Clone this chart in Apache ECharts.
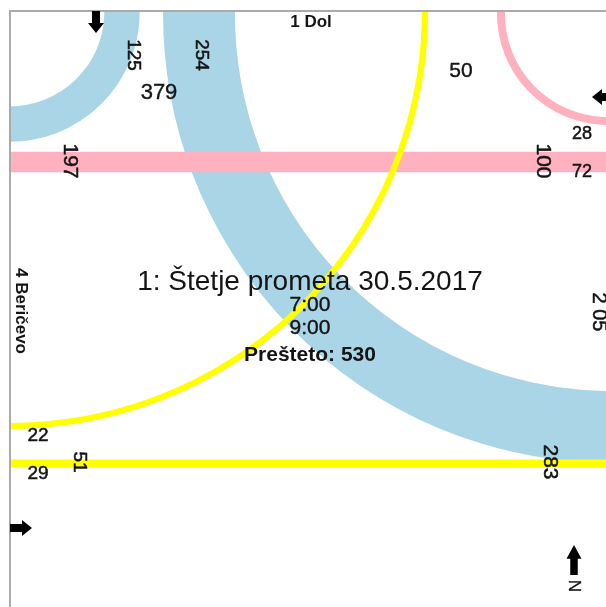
<!DOCTYPE html>
<html><head><meta charset="utf-8">
<style>html,body{margin:0;padding:0;background:#fff}#c{width:606px;height:607px}</style>
<script src="https://cdn.jsdelivr.net/npm/echarts@6/dist/echarts.min.js"></script>
</head><body><div id="c"></div>
<script>
// Flows (vehicles) drawn as bands; band width is proportional to the flow
var flowNames = ['Blue through', 'Blue turn', 'Pink through', 'Pink turn', 'Yellow through', 'Yellow turn'];
var flowValues = [254, 125, 72, 28, 29, 22];
var widthPerVehicle = 0.283;

// Straight band centre-lines, in map coordinates
var pinkThroughPath = [[10,162],[606,162]];
var yellowThroughPath = [[10,463.5],[606,463.5]];

// Turning bands as circular arcs: centre x, centre y, radius, start and end angle (degrees)
var blueThroughArc = [612,14,413,85,185];
var blueTurnArc = [10,12,112,-5,95];
var pinkTurnArc = [608,14,107,85,185];
var yellowTurnArc = [10,11,415,-5,95];

// Texts
var labelTexts = ['1 Dol','4 Beričevo','2 05','125','254','379','50','197','100','28','72','22','29','51','283','1: Štetje prometa 30.5.2017','7:00','9:00','Prešteto: 530','N'];

// Layout of the texts: x, y, size, rotation, weight, thickening
var labelLayout = [
 [311,22,17,0,'bold',0],[21,311,17,-90,'bold',0],[599,312,20,-90,'normal',0.5],
 [133,55,19,-90,'normal',0.5],[201,55,19,-90,'normal',0.5],[159,93,22,0,'normal',0.4],
 [461,71,21,0,'normal',0.4],[70,161,21,-90,'normal',0.5],[543,161,21,-90,'normal',0.5],
 [582,134,18,0,'normal',0.5],[582,172,18,0,'normal',0.5],[38,436,19,0,'normal',0.5],[38,474,19,0,'normal',0.5],
 [79,462,19,-90,'normal',0.5],[550,462,21,-90,'normal',0.5],
 [310,282,28,0,'normal',0],[310,305,21,0,'normal',0.4],[310,328,21,0,'normal',0.4],[310,355,21,0,'bold',0],
 [574,586,17,-90,'normal',0.3]
];

// Arrows: x, y, rotation
var arrowPoints = [[96,22,180],[603,97,90],[21,528,-90],[574,560,0]];
var arrowSizes = [[16,22],[16,22],[16,22],[15,30]];
var arrowPath = 'path://M8 0 L16 10 L12 10 L12 22 L4 22 L4 10 L0 10 Z';

var colors = {blue:'#A9D5E6', pink:'#FFB1BF', yellow:'#FFFF00'};

function straightBand(i, path, color){
  return {type:'line', name:flowNames[i], data:path, showSymbol:false, symbol:'none',
    lineStyle:{color:color, width:flowValues[i]*widthPerVehicle, cap:'butt'},
    silent:true, clip:true, z:2+i};
}

function arcBand(i, arc, color){
  return {type:'custom', name:flowNames[i], data:[arc], clip:true, silent:true, z:2+i,
    encode:{x:0, y:1},
    renderItem:function(params, api){
      var c = api.coord([api.value(0), api.value(1)]);
      var r = api.size([api.value(2), 0])[0];
      return {type:'arc', silent:true,
        shape:{cx:c[0], cy:c[1], r:r, startAngle:api.value(3)*Math.PI/180, endAngle:api.value(4)*Math.PI/180, clockwise:true},
        style:{stroke:color, fill:null, lineWidth:flowValues[i]*widthPerVehicle, lineCap:'butt'}};
    }};
}

var chart = echarts.init(document.getElementById('c'), null, {renderer:'canvas'});
chart.setOption({
  animation:false,
  backgroundColor:'#fff',
  grid:{left:10, top:11, width:596, height:596, containLabel:false},
  xAxis:{type:'value', position:'top', min:10, max:606, axisTick:{show:false}, axisLabel:{show:false}, splitLine:{show:false}, z:15,
         axisLine:{show:true, onZero:false, lineStyle:{color:'#aaaaaa', width:2}}},
  yAxis:{type:'value', inverse:true, min:11, max:607, axisTick:{show:false}, axisLabel:{show:false}, splitLine:{show:false}, z:15,
         axisLine:{show:true, onZero:false, lineStyle:{color:'#aaaaaa', width:2}}},
  series:[
    arcBand(0, blueThroughArc, colors.blue),
    arcBand(1, blueTurnArc, colors.blue),
    straightBand(2, pinkThroughPath, colors.pink),
    arcBand(3, pinkTurnArc, colors.pink),
    straightBand(4, yellowThroughPath, colors.yellow),
    arcBand(5, yellowTurnArc, colors.yellow),
    {type:'scatter', silent:true, clip:false, z:20,
     data:arrowPoints.map(function(a,i){return {value:[a[0],a[1]], symbol:arrowPath, symbolSize:arrowSizes[i], symbolRotate:a[2], itemStyle:{color:'#000', opacity:1}};})},
    {type:'scatter', silent:true, clip:false, z:30, symbolSize:1, itemStyle:{color:'rgba(0,0,0,0)', opacity:1},
     data:labelTexts.map(function(t,i){var l=labelLayout[i];return {value:[l[0],l[1]],
       label:{show:true, position:'inside', formatter:function(){return t;}, rotate:l[3], fontSize:l[2], fontWeight:l[4],
              fontFamily:'"Liberation Sans"', color:'#141414', textBorderColor:'#141414', textBorderWidth:l[5], opacity:1, align:'center', verticalAlign:'middle'}};})}
  ]
});
</script></body></html>
